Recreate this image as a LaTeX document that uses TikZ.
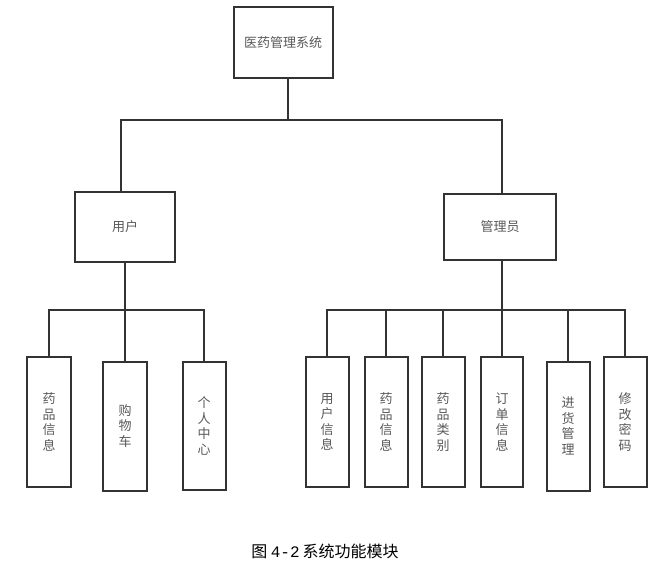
\documentclass[tikz,border=0pt]{standalone}
\usepackage{fontspec}
\setmainfont{Noto Sans CJK SC}
\newfontfamily\monofont{Liberation Mono}
\begin{document}
\begin{tikzpicture}[x=1pt,y=-1pt,
  box/.style={draw=black!80,line width=2pt,fill=white,inner sep=0pt,text=black!65,font=\fontsize{13}{15.5}\selectfont,align=center},
  link/.style={draw=black!80,line width=2pt}]
\useasboundingbox (0,0) rectangle (664,588);
% top
\node[box,minimum width=99pt,minimum height=71pt] (root) at (283,43) {医药管理系统};
\node[box,minimum width=100pt,minimum height=69pt] (user) at (125,227) {用户};
\node[box,minimum width=112pt,minimum height=66pt] (admin) at (500,227) {管理员};
% leaves user
\node[box,minimum width=44pt,minimum height=130pt] (u1) at (49,422) {药\\品\\信\\息};
\node[box,minimum width=44pt,minimum height=129pt] (u2) at (125,426) {购\\物\\车};
\node[box,minimum width=43pt,minimum height=128pt] (u3) at (204,426) {个\\人\\中\\心};
% leaves admin
\node[box,minimum width=43pt,minimum height=130pt] (a1) at (327,422) {用\\户\\信\\息};
\node[box,minimum width=43pt,minimum height=130pt] (a2) at (386,422) {药\\品\\信\\息};
\node[box,minimum width=43pt,minimum height=130pt] (a3) at (443,422) {药\\品\\类\\别};
\node[box,minimum width=42pt,minimum height=130pt] (a4) at (502,422) {订\\单\\信\\息};
\node[box,minimum width=43pt,minimum height=129pt] (a5) at (568,426) {进\\货\\管\\理};
\node[box,minimum width=43pt,minimum height=130pt] (a6) at (625,422) {修\\改\\密\\码};
% junctions
\coordinate (j0) at (288,120);
\coordinate (j1) at (125,310);
\coordinate (j2) at (502,310);
\draw[link] ([xshift=5pt]root.south) -- (j0);
\draw[link] ([xshift=-4pt]user.north) |- (j0);
\draw[link] ([xshift=2pt]admin.north) |- (j0);
\draw[link] (user.south) -- (j1);
\draw[link] ([xshift=2pt]admin.south) -- (j2);
\foreach \n in {u1,u2,u3}{\draw[link] (\n.north) |- (j1);}
\foreach \n in {a1,a2,a3,a4,a5,a6}{\draw[link] (\n.north) |- (j2);}
% caption
\node[font=\fontsize{16}{18}\selectfont] (cap) at (325,551) {图 {\monofont 4-2}\hspace{3pt}系统功能模块};
\end{tikzpicture}
\end{document}
